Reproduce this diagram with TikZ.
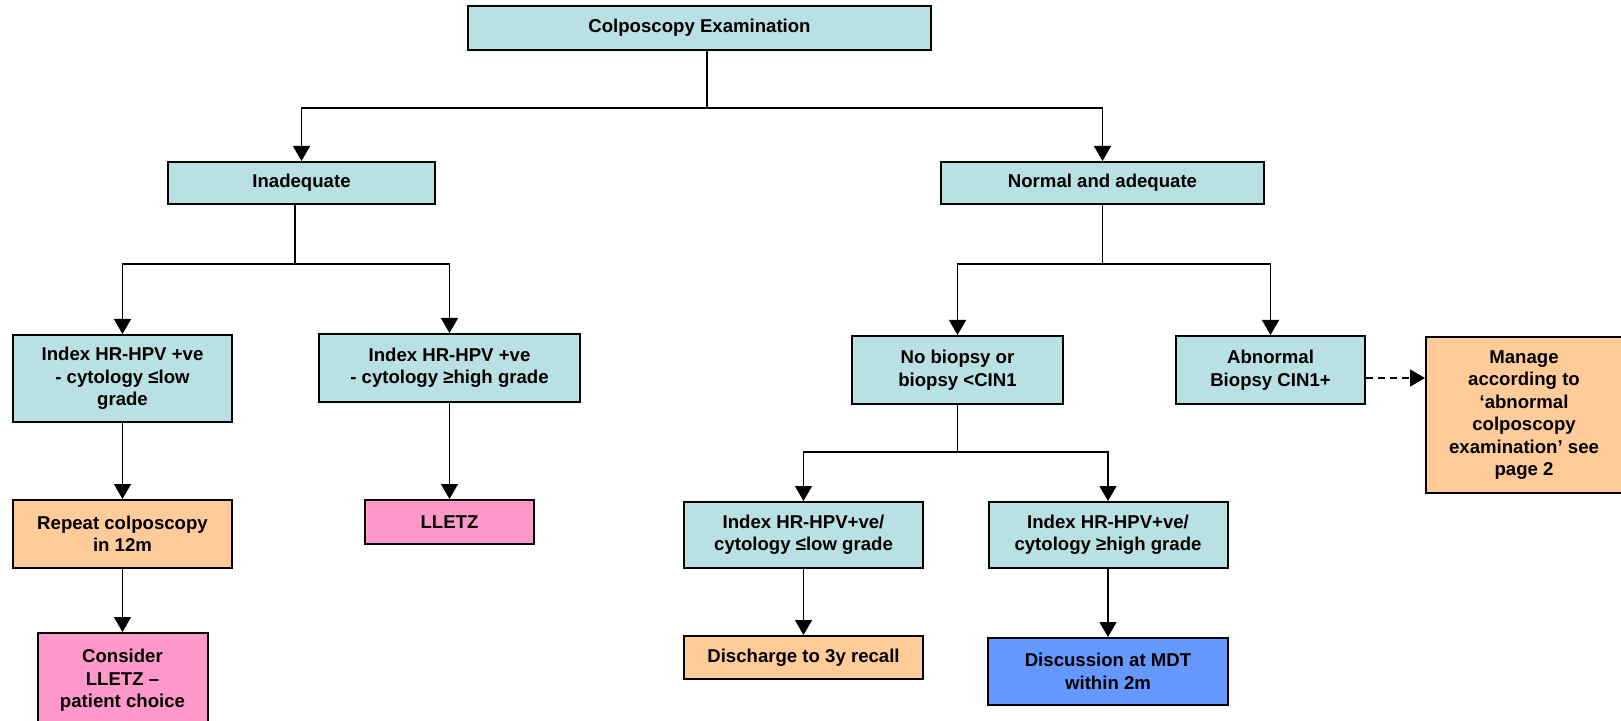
\documentclass[tikz,border=0pt]{standalone}
\usepackage{fontspec}
\setmainfont{Liberation Sans}
\usepackage{xcolor}
\usepackage{tikz}
\usetikzlibrary{shapes,arrows.meta,positioning,calc}

\definecolor{boxcyan}{RGB}{185,224,227}
\definecolor{boxorange}{RGB}{255,204,153}
\definecolor{boxpink}{RGB}{255,153,204}
\definecolor{boxblue}{RGB}{102,153,255}

\begin{document}
\begin{tikzpicture}[x=0.5pt,y=-0.5pt,
  >={Triangle[length=7.5pt,width=8.5pt]},
  box/.style={draw,rectangle,line width=1pt,align=center,inner sep=0pt,
    font=\bfseries\fontsize{9.3}{11.2}\selectfont},
  cyanbox/.style={box,fill=boxcyan},
  orangebox/.style={box,fill=boxorange},
  pinkbox/.style={box,fill=boxpink},
  bluebox/.style={box,fill=boxblue},
  arr/.style={->,line width=0.75pt},
  dasharr/.style={->,line width=0.75pt,dash pattern=on 3.5pt off 2.5pt}]
\useasboundingbox (0,0) rectangle (1621,721);

% Examination
\node[cyanbox,minimum width=231.5pt,minimum height=22pt] (colpo) at (699.5,28) {Colposcopy Examination};
\node[cyanbox,minimum width=133.5pt,minimum height=21pt] (inad) at (301.5,183) {Inadequate};
\node[cyanbox,minimum width=161.5pt,minimum height=21pt] (normal) at (1102.5,183) {Normal and adequate};

% Inadequate branch
\node[cyanbox,minimum width=109.5pt,minimum height=43.5pt] (idxA) at (122.5,378.5) {Index HR-HPV +ve\\- cytology ≤low\\grade};
\node[cyanbox,minimum width=130.5pt,minimum height=34pt] (idxB) at (449.5,368) {Index HR-HPV +ve\\- cytology ≥high grade};
\node[orangebox,minimum width=109.5pt,minimum height=34pt] (repeat) at (122.5,534) {Repeat colposcopy\\in 12m};
\node[pinkbox,minimum width=84.5pt,minimum height=22pt] (lletz) at (449.5,522) {LLETZ};
\node[pinkbox,minimum width=85pt,minimum height=47.5pt] (consider) at (122.5,680.5) {Consider\\LLETZ –\\patient choice};

% Normal branch
\node[cyanbox,minimum width=105.5pt,minimum height=34pt] (nobiop) at (957.5,370) {No biopsy or\\biopsy <CIN1};
\node[cyanbox,minimum width=94.5pt,minimum height=34pt] (abnorm) at (1270.5,370) {Abnormal\\Biopsy CIN1+};
\node[orangebox,minimum width=98pt,minimum height=78pt] (manage) at (1524,415) {Manage\\according to\\‘abnormal\\colposcopy\\examination’ see\\page 2};
\node[cyanbox,minimum width=119.5pt,minimum height=33pt] (idxC) at (803.5,535) {Index HR-HPV+ve/\\cytology ≤low grade};
\node[cyanbox,minimum width=119.5pt,minimum height=33pt] (idxD) at (1108,535) {Index HR-HPV+ve/\\cytology ≥high grade};
\node[orangebox,minimum width=119.5pt,minimum height=21.5pt] (discharge) at (803.5,657.5) {Discharge to 3y recall};
\node[bluebox,minimum width=120pt,minimum height=33.5pt] (discuss) at (1108,671.5) {Discussion at MDT\\within 2m};

% Connectors
\draw[line width=0.75pt] ([xshift=3.75pt]colpo.south) -- ++(0,57) coordinate (topbar);
\draw[arr] (topbar) -| (inad);
\draw[arr] (topbar) -| (normal);

\draw[line width=0.75pt] ([xshift=-3.25pt]inad.south) -- ++(0,59) coordinate (inbar);
\draw[arr] (inbar) -| (idxA);
\draw[arr] (inbar) -| (idxB);
\draw[arr] (idxA) -- (repeat);
\draw[arr] (repeat) -- (consider);
\draw[arr] (idxB) -- (lletz);

\draw[line width=0.75pt] (normal.south) -- ++(0,59) coordinate (nobar);
\draw[arr] (nobar) -| (nobiop);
\draw[arr] (nobar) -| (abnorm);
\draw[dasharr] ([yshift=-4pt]abnorm.east) -- ([yshift=-4pt]abnorm.east -| manage.west);

\draw[line width=0.75pt] (nobiop.south) -- ++(0,47) coordinate (nbbar);
\draw[arr] (nbbar) -| (idxC);
\draw[arr] (nbbar) -| (idxD);
\draw[arr] (idxC) -- (discharge);
\draw[arr] (idxD) -- (discuss);
\end{tikzpicture}
\end{document}
